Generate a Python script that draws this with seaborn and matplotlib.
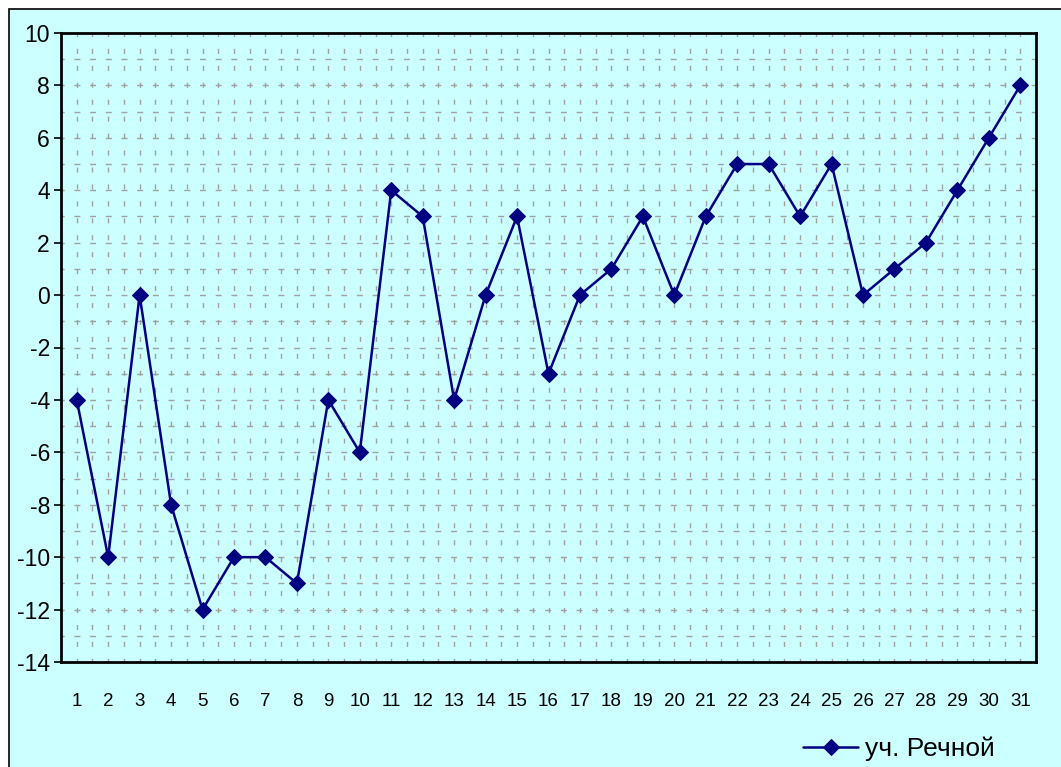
import matplotlib
matplotlib.use("Agg")
import matplotlib.pyplot as plt
import matplotlib.patches as mpatches
import numpy as np
import pandas as pd
import seaborn as sns

days = list(range(1, 32))
values = [-4, -10, 0, -8, -12, -10, -10, -11, -4, -6, 4, 3, -4, 0, 3, -3,
          0, 1, 3, 0, 3, 5, 5, 3, 5, 0, 1, 2, 4, 6, 8]
series_name = "уч. Речной"
y_ticks = list(range(-14, 11, 2))

bg = "#CCFFFF"
line_color = "#000080"
grid_color = "#A0A0A0"

sns.set_theme(style="white")
plt.rcParams["font.family"] = ["Liberation Sans", "DejaVu Sans"]
plt.rcParams["text.color"] = "black"

fig = plt.figure(figsize=(10.61, 7.67), dpi=100)
fig.patch.set_facecolor("white")
# chart area frame
fig.patches.append(mpatches.Rectangle((9 / 1061, -0.1), 1.2, 1 - 9 / 767 + 0.1,
                                      transform=fig.transFigure, facecolor=bg,
                                      edgecolor="black", linewidth=1.2, zorder=-5))

ax = fig.add_axes([61 / 1061, 1 - 662 / 767, (1036 - 61) / 1061, (662 - 33) / 767])
ax.set_facecolor(bg)

df = pd.DataFrame({"x": np.arange(len(days)), "y": values, "s": series_name})

# dashed grid: every unit on y, every half category on x
for yv in range(-14, 11):
    ax.axhline(yv, color=grid_color, linestyle=(2, (4.3, 7.0)), linewidth=1, zorder=1)
for xv in np.arange(-0.5, len(days), 0.5):
    ax.axvline(xv, color=grid_color, linestyle=(1, (3.6, 8.6)), linewidth=1, zorder=1)

sns.lineplot(data=df, x="x", y="y", hue="s", palette=[line_color], marker="D",
             markersize=8, markeredgecolor=line_color, linewidth=1.8, ax=ax,
             zorder=3)

ax.set_xlim(-0.5, len(days) - 0.5)
ax.set_ylim(-14, 10)
ax.set_yticks(y_ticks)
ax.set_yticklabels([str(t) for t in y_ticks], fontsize=16.5)
ax.set_xticks(np.arange(len(days)))
ax.set_xticklabels([str(d) for d in days], fontsize=13.5)
ax.tick_params(axis="x", length=0, pad=22, colors="black")
ax.tick_params(axis="y", length=5, width=1.2, direction="out", left=True, pad=3,
               colors="black")
ax.set_xlabel("")
ax.set_ylabel("")
for sp in ax.spines.values():
    sp.set_visible(True)
    sp.set_color("black")
    sp.set_linewidth(2)

handles, labels = ax.get_legend_handles_labels()
leg = ax.legend(handles, labels, loc="center left",
                bbox_to_anchor=(803 / 1061, 1 - 749 / 767),
                bbox_transform=fig.transFigure, frameon=False, fontsize=19,
                handlelength=2.1, handletextpad=0.25, borderaxespad=0,
                borderpad=0)
for t in leg.get_texts():
    t.set_color("black")

fig.savefig("out.png", dpi=100, facecolor=fig.get_facecolor())
